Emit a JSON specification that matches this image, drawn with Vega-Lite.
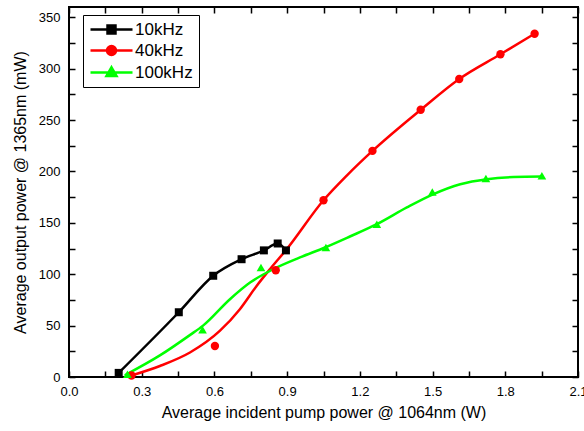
{
  "$schema": "https://vega.github.io/schema/vega-lite/v6.json",
  "width": 509,
  "height": 370,
  "autosize": {"type": "none"},
  "padding": {"left": 69, "top": 7, "right": 6, "bottom": 54},
  "background": "white",
  "config": {
    "view": {"stroke": "black", "strokeWidth": 2},
    "font": "Liberation Sans",
    "axis": {
      "domain": false,
      "ticks": true,
      "tickColor": "#000000",
      "tickOpacity": 1,
      "tickWidth": 1.5,
      "tickSize": 6,
      "offset": -6,
      "zindex": 2,
      "grid": false,
      "labelColor": "black",
      "labelFont": "Liberation Sans",
      "labelFontSize": 13,
      "titleColor": "black",
      "titleFont": "Liberation Sans",
      "titleFontSize": 16,
      "titleFontWeight": "normal"
    },
    "legend": {
      "orient": "none",
      "legendX": 14,
      "legendY": 8,
      "symbolSize": 196,
      "symbolOpacity": 1,
      "symbolStrokeWidth": 2.5,
      "labelFont": "Liberation Sans",
      "labelFontSize": 17,
      "labelColor": "black",
      "labelOffset": 29,
      "rowPadding": 2,
      "padding": 6,
      "strokeColor": "black",
      "strokeWidth": 1
    }
  },
  "datasets": {
    "points": [
      {"series": "10kHz", "x": 0.205, "y": 4},
      {"series": "10kHz", "x": 0.453, "y": 63},
      {"series": "10kHz", "x": 0.595, "y": 98.5},
      {"series": "10kHz", "x": 0.712, "y": 114.6},
      {"series": "10kHz", "x": 0.804, "y": 123.2},
      {"series": "10kHz", "x": 0.861, "y": 129.9},
      {"series": "10kHz", "x": 0.895, "y": 123.2},
      {"series": "40kHz", "x": 0.258, "y": 1.5},
      {"series": "40kHz", "x": 0.602, "y": 30.2},
      {"series": "40kHz", "x": 0.853, "y": 103.9},
      {"series": "40kHz", "x": 1.05, "y": 172},
      {"series": "40kHz", "x": 1.252, "y": 220},
      {"series": "40kHz", "x": 1.451, "y": 260},
      {"series": "40kHz", "x": 1.61, "y": 290},
      {"series": "40kHz", "x": 1.78, "y": 314},
      {"series": "40kHz", "x": 1.921, "y": 334},
      {"series": "100kHz", "x": 0.241, "y": 2.6},
      {"series": "100kHz", "x": 0.551, "y": 46},
      {"series": "100kHz", "x": 0.792, "y": 106.5},
      {"series": "100kHz", "x": 1.06, "y": 126},
      {"series": "100kHz", "x": 1.27, "y": 148.7},
      {"series": "100kHz", "x": 1.499, "y": 180},
      {"series": "100kHz", "x": 1.72, "y": 193.2},
      {"series": "100kHz", "x": 1.951, "y": 195.7}
    ],
    "curves": [
      {"series": "10kHz", "x": 0.205, "y": 4},
      {"series": "10kHz", "x": 0.453, "y": 63},
      {"series": "10kHz", "x": 0.595, "y": 98.5},
      {"series": "10kHz", "x": 0.712, "y": 114.6},
      {"series": "10kHz", "x": 0.804, "y": 123.2},
      {"series": "10kHz", "x": 0.861, "y": 129.9},
      {"series": "10kHz", "x": 0.895, "y": 123.2},
      {"series": "40kHz", "x": 0.258, "y": 1.5},
      {"series": "40kHz", "x": 0.375, "y": 10.7},
      {"series": "40kHz", "x": 0.499, "y": 23.8},
      {"series": "40kHz", "x": 0.622, "y": 44.8},
      {"series": "40kHz", "x": 0.705, "y": 66},
      {"series": "40kHz", "x": 0.774, "y": 88.6},
      {"series": "40kHz", "x": 0.829, "y": 104.9},
      {"series": "40kHz", "x": 0.898, "y": 124.3},
      {"series": "40kHz", "x": 1.05, "y": 172},
      {"series": "40kHz", "x": 1.146, "y": 196},
      {"series": "40kHz", "x": 1.252, "y": 220},
      {"series": "40kHz", "x": 1.451, "y": 260},
      {"series": "40kHz", "x": 1.61, "y": 290},
      {"series": "40kHz", "x": 1.78, "y": 314},
      {"series": "40kHz", "x": 1.921, "y": 334},
      {"series": "100kHz", "x": 0.23, "y": 1.7},
      {"series": "100kHz", "x": 0.375, "y": 21},
      {"series": "100kHz", "x": 0.5, "y": 41},
      {"series": "100kHz", "x": 0.553, "y": 50},
      {"series": "100kHz", "x": 0.664, "y": 75.7},
      {"series": "100kHz", "x": 0.747, "y": 91.9},
      {"series": "100kHz", "x": 0.843, "y": 104.9},
      {"series": "100kHz", "x": 0.953, "y": 116.3},
      {"series": "100kHz", "x": 1.056, "y": 126},
      {"series": "100kHz", "x": 1.159, "y": 136.7},
      {"series": "100kHz", "x": 1.27, "y": 148.7},
      {"series": "100kHz", "x": 1.394, "y": 165},
      {"series": "100kHz", "x": 1.504, "y": 178},
      {"series": "100kHz", "x": 1.614, "y": 187.6},
      {"series": "100kHz", "x": 1.724, "y": 192.5},
      {"series": "100kHz", "x": 1.834, "y": 194.5},
      {"series": "100kHz", "x": 1.951, "y": 195}
    ]
  },
  "layer": [
    {
      "data": {"name": "points"},
      "mark": {"type": "point", "filled": true, "opacity": 0, "strokeWidth": 2.5, "size": 196},
      "encoding": {
        "x": {
          "field": "x", "type": "quantitative",
          "scale": {"domain": [0, 2.1], "nice": false, "zero": false},
          "axis": {
            "orient": "top", "title": null, "labels": false, "ticks": true,
            "values": [0, 0.15, 0.3, 0.45, 0.6, 0.75, 0.9, 1.05, 1.2, 1.35, 1.5, 1.65, 1.8, 1.95, 2.1]
          }
        },
        "y": {
          "field": "y", "type": "quantitative",
          "scale": {"domain": [0, 360], "nice": false},
          "axis": {
            "orient": "right", "title": null, "labels": false, "ticks": true,
            "values": [0, 25, 50, 75, 100, 125, 150, 175, 200, 225, 250, 275, 300, 325, 350]
          }
        },
        "fill": {
          "field": "series", "type": "nominal",
          "scale": {"domain": ["10kHz", "40kHz", "100kHz"], "range": ["#000000", "#ff0000", "#00ff00"]},
          "legend": {"title": null, "symbolOpacity": 1}
        },
        "stroke": {
          "field": "series", "type": "nominal",
          "scale": {"domain": ["10kHz", "40kHz", "100kHz"], "range": ["#000000", "#ff0000", "#00ff00"]},
          "legend": {"title": null, "symbolOpacity": 1}
        },
        "shape": {
          "field": "series", "type": "nominal",
          "scale": {
            "domain": ["10kHz", "40kHz", "100kHz"],
            "range": [
              "M-1,0H5M1.43,-0.57H2.57V0.57H1.43Z",
              "M-1,0H5M1.36,0A0.64,0.64,0,1,1,2.64,0A0.64,0.64,0,1,1,1.36,0Z",
              "M-1,0H5M2,-0.75L2.72,0.5H1.28Z"
            ]
          },
          "legend": {"title": null, "symbolOpacity": 1}
        }
      }
    },
    {
      "data": {"name": "curves"},
      "mark": {"type": "line", "interpolate": "monotone", "strokeWidth": 2.5},
      "encoding": {
        "x": {
          "field": "x", "type": "quantitative",
          "axis": {
            "orient": "bottom",
            "title": "Average incident pump power @ 1064nm (W)",
            "ticks": true,
            "values": [0, 0.15, 0.3, 0.45, 0.6, 0.75, 0.9, 1.05, 1.2, 1.35, 1.5, 1.65, 1.8, 1.95, 2.1],
            "labelExpr": "round(datum.value*100) % 30 == 0 ? format(datum.value, '.1f') : ''",
            "labelPadding": 8,
            "labelFlush": false,
            "labelOverlap": false,
            "titlePadding": 6
          }
        },
        "y": {
          "field": "y", "type": "quantitative",
          "axis": {
            "orient": "left",
            "title": "Average output power @ 1365nm (mW)",
            "ticks": true,
            "values": [0, 25, 50, 75, 100, 125, 150, 175, 200, 225, 250, 275, 300, 325, 350],
            "labelExpr": "datum.value % 50 == 0 ? datum.value : ''",
            "labelPadding": 9,
            "labelFlush": false,
            "labelOverlap": false,
            "titlePadding": 10
          }
        },
        "color": {
          "field": "series", "type": "nominal",
          "scale": {"domain": ["10kHz", "40kHz", "100kHz"], "range": ["#000000", "#ff0000", "#00ff00"]},
          "legend": null
        }
      }
    },
    {
      "data": {"name": "points"},
      "transform": [{"filter": "datum.series == '10kHz'"}],
      "mark": {"type": "point", "shape": "square", "filled": true, "opacity": 1, "color": "#000000", "size": 64},
      "encoding": {
        "x": {"field": "x", "type": "quantitative", "axis": null},
        "y": {"field": "y", "type": "quantitative", "axis": null}
      }
    },
    {
      "data": {"name": "points"},
      "transform": [{"filter": "datum.series == '40kHz'"}],
      "mark": {"type": "point", "shape": "circle", "filled": true, "opacity": 1, "color": "#ff0000", "size": 70},
      "encoding": {
        "x": {"field": "x", "type": "quantitative", "axis": null},
        "y": {"field": "y", "type": "quantitative", "axis": null}
      }
    },
    {
      "data": {"name": "points"},
      "transform": [{"filter": "datum.series == '100kHz'"}],
      "mark": {"type": "point", "shape": "triangle-up", "filled": true, "opacity": 1, "color": "#00ff00", "size": 75},
      "encoding": {
        "x": {"field": "x", "type": "quantitative", "axis": null},
        "y": {"field": "y", "type": "quantitative", "axis": null}
      }
    }
  ],
  "resolve": {
    "axis": {"x": "independent", "y": "independent"}
  }
}
